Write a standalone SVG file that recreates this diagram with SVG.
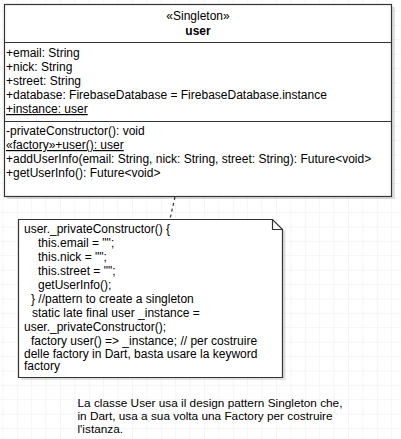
<svg xmlns="http://www.w3.org/2000/svg" width="401" height="439" viewBox="0 0 401 439">
<defs>
<pattern id="grid" x="2.4" y="10.4" width="14.4" height="14.4" patternUnits="userSpaceOnUse">
<path d="M0 0H14.4M0 0V14.4" fill="none" stroke="#ebebeb" stroke-width="1"/>
</pattern>
<style>
text{font-family:"Liberation Sans",Arial,sans-serif;font-size:12px;fill:#000}
.b{font-weight:bold}
.m{text-anchor:middle}
.c{font-size:11.8px}
.shape{fill:#fff;stroke:#333;stroke-width:1.2}
.shadow{fill:#000;fill-opacity:0.12;stroke:none}
.u{text-decoration:underline}
</style>
</defs>
<rect width="401" height="439" fill="#fff"/>
<rect width="401" height="439" fill="url(#grid)"/>
<g id="user-class">
<rect class="shadow" x="7" y="7" width="388" height="192"/>
<rect class="shape" x="4.5" y="4.5" width="387" height="192"/>
<line x1="4.5" y1="42.5" x2="391.5" y2="42.5" stroke="#333" stroke-width="1.2"/>
<line x1="4.5" y1="121.5" x2="391.5" y2="121.5" stroke="#333" stroke-width="1.2"/>
<text class="m" x="198" y="20">«Singleton»</text>
<text class="m b" x="198" y="34.5">user</text>
<text x="6" y="56.5">+email: String</text>
<text x="6" y="70.5">+nick: String</text>
<text x="6" y="85">+street: String</text>
<text x="6" y="99">+database: FirebaseDatabase = FirebaseDatabase.instance</text>
<text class="u" x="6" y="113">+instance: user</text>
<text x="6" y="135">-privateConstructor(): void</text>
<text class="u" x="6" y="149">«factory»+user(): user</text>
<text x="6" y="163">+addUserInfo(email: String, nick: String, street: String): Future&lt;void&gt;</text>
<text x="6" y="177">+getUserInfo(): Future&lt;void&gt;</text>
</g>
<g id="connectors">
<line x1="175" y1="197" x2="170" y2="219" stroke="#333" stroke-width="1.2" stroke-dasharray="3,3"/>
</g>
<g id="note">
<path class="shadow" d="M21.5 221.5H275.5L285.5 231.5V380H21.5Z"/>
<path class="shape" d="M18.5 219.5H272.5L282.5 229.5V377.5H18.5Z"/>
<path d="M272.5 219.5V229.5H282.5" fill="none" stroke="#333" stroke-width="1.2"/>
<text x="24" y="233">user._privateConstructor() {</text>
<text x="38" y="247">this.email = "";</text>
<text x="38" y="261">this.nick = "";</text>
<text x="38" y="275">this.street = "";</text>
<text x="38" y="289">getUserInfo();</text>
<text x="31" y="303">} //pattern to create a singleton</text>
<text x="32" y="317">static late final user _instance =</text>
<text x="24" y="331">user._privateConstructor();</text>
<text x="31" y="345">factory user() =&gt; _instance;  // per costruire</text>
<text x="24" y="357.5">delle factory in Dart, basta usare la keyword</text>
<text x="24" y="370">factory</text>
</g>
<g id="caption">
<text class="c" x="77.5" y="407">La classe User usa il design pattern Singleton che,</text>
<text class="c" x="77.5" y="419.8">in Dart, usa a sua volta una Factory per costruire</text>
<text class="c" x="77.5" y="432.6">l'istanza.</text>
</g>
</svg>
